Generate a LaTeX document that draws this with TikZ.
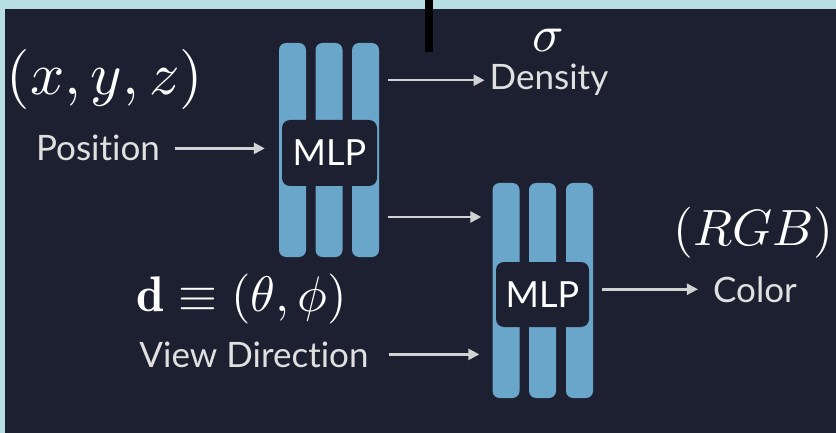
\documentclass[tikz,border=0pt]{standalone}
\usepackage{graphicx}
\usepackage{fontspec}
\newfontfamily\lato[Ligatures={NoCommon,NoRequired,NoContextual}]{Lato}
\usetikzlibrary{arrows.meta}
\definecolor{framec}{HTML}{B7DFE3}
\definecolor{bgc}{HTML}{1D2030}
\definecolor{barc}{HTML}{6AA5CA}
\definecolor{txtc}{HTML}{E0E0E0}
\definecolor{arrc}{HTML}{D2D2D2}
\tikzset{
  bar/.style={fill=barc, rounded corners=7pt, minimum width=27pt, minimum height=214pt, inner sep=0pt, draw=none},
  mlpbox/.style={fill=bgc, rounded corners=8pt, minimum width=95pt, minimum height=66pt, inner sep=0pt, text=white, font=\lato\fontsize{36}{40}\selectfont},
  lbl/.style={text=txtc, inner sep=0pt, anchor=base, font=\lato\fontsize{35}{40}\selectfont},
  mathlbl/.style={text=white, inner sep=0pt, anchor=base, font=\normalsize},
  arr/.style={draw=arrc, line width=2.5pt, -{Triangle[length=11pt,width=11pt]}}
}
\begin{document}
\begin{tikzpicture}[x=1pt,y=-1pt]
\useasboundingbox (0,0) rectangle (836,433);
\fill[framec] (0,0) rectangle (836,433);
\fill[bgc] (5,9) rectangle (836,433);
\fill[black] (425,0) rectangle (433,52);

% MLP 1
\node[bar] (m1a) at (292.5,150) {};
\node[bar] (m1b) at (329,150) {};
\node[bar] (m1c) at (365.5,150) {};
\node[mlpbox] (mlp1) at (329.5,153) {MLP};

% MLP 2
\node[bar, minimum height=215pt] (m2a) at (506,290.5) {};
\node[bar, minimum height=215pt] (m2b) at (542.5,290.5) {};
\node[bar, minimum height=215pt] (m2c) at (579.5,290.5) {};
\node[mlpbox, minimum width=93pt, minimum height=65pt] (mlp2) at (542.5,294.5) {MLP};

% labels
\node[lbl] (pos) at (98,161) {Position};
\node[lbl] (den) at (549,90) {Density};
\node[lbl] (col) at (755,302) {Color};
\node[lbl] (vd) at (254,367) {View Direction};

\node[mathlbl] (xyz) at (105,95) {\scalebox{6}{$(x,y,z)$}};
\node[mathlbl] (sig) at (548,52) {\scalebox{5.2}{$\sigma$}};
\node[mathlbl] (rgb) at (753.5,245) {\scalebox{5.1}{$(RGB)$}};
\node[mathlbl] (dir) at (242,311) {\scalebox{5}{$\mathbf{d}\equiv(\theta,\phi)$}};

% arrows
\draw[arr] ([xshift=15pt]pos.east) -- ([xshift=-14pt]m1a.west |- pos.east);
\draw[arr] ([xshift=9pt]m1c.east |- den.west) -- ([xshift=-5pt]den.west);
\draw[arr] ([xshift=9pt,yshift=-67pt]m1c.east) -- ([xshift=-11pt,yshift=-67pt]m1c.east -| m2a.west);
\draw[arr] ([xshift=20pt]vd.east) -- ([xshift=-13pt]m2a.west |- vd.east);
\draw[arr] ([xshift=9pt]m2c.east |- col.west) -- ([xshift=-15pt]col.west);
\end{tikzpicture}
\end{document}
